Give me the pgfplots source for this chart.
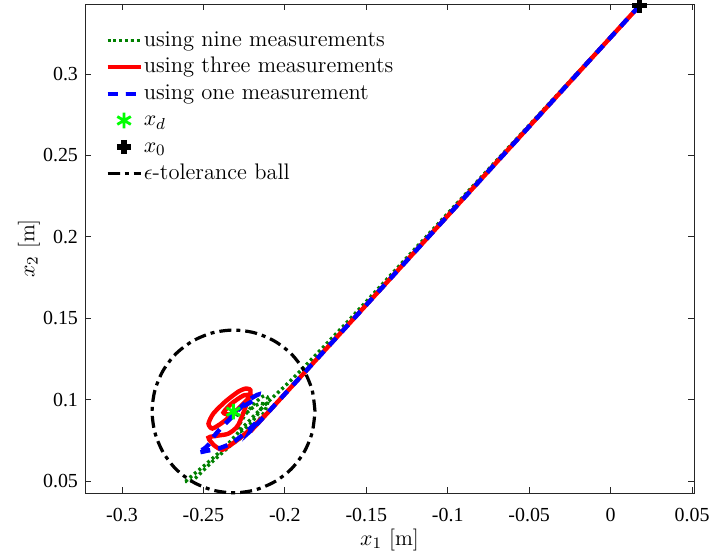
\documentclass[border=0pt]{standalone}
\usepackage{fontspec}
\usepackage{pgfplots}
\pgfplotsset{compat=1.18}
\newfontfamily\timesfont{Liberation Serif}
\definecolor{dkgreen}{rgb}{0,0.5,0}
\definecolor{axgray}{rgb}{0.15,0.15,0.15}

\begin{document}
\begin{tikzpicture}
\begin{axis}[
  scale only axis, width=304.5bp, height=244.5bp,
  xmin=-0.3227, xmax=0.0512, ymin=0.0426, ymax=0.3430,
  clip=false,
  xtick={-0.3,-0.25,-0.2,-0.15,-0.1,-0.05,0,0.05},
  xticklabels={-0.3,-0.25,-0.2,-0.15,-0.1,-0.05,0,0.05},
  ytick={0.05,0.1,0.15,0.2,0.25,0.3},
  yticklabels={0.05,0.1,0.15,0.2,0.25,0.3},
  tick label style={font=\timesfont\fontsize{10}{12}\selectfont},
  xticklabel style={yshift=-4bp},
  axis line style={axgray},
  tick style={axgray, line width=0.4pt},
  tick align=inside, major tick length=3bp,
  xlabel={$x_1$ [m]}, ylabel={$x_2$ [m]},
  label style={font=\fontsize{11}{13}\selectfont},
  xlabel style={at={(axis description cs:0.5,0)}, anchor=center, yshift=-23.5bp},
  ylabel style={at={(axis description cs:-0.092,0.5)}, anchor=center},
  legend cell align=left,
  legend style={at={(axis description cs:0,1)}, anchor=north west,
    xshift=7bp, yshift=-9.5bp, draw=none, fill=none,
    font=\fontsize{11.3}{13}\selectfont, row sep=0bp,
    nodes={inner xsep=0.5bp, inner ysep=0.4bp, text height=9bp, text depth=3.5bp}},
  legend image code/.code={\draw[mark repeat=2,mark phase=2,#1]
    plot coordinates {(0bp,0bp) (8.25bp,0bp) (16.5bp,0bp)};},
]
% nine measurements
\addplot[dkgreen, line width=1.7bp, dash pattern=on 1.4bp off 1.5bp, smooth, tension=0.4] coordinates {
(0.0178,0.3420) (-0.0983,0.2162) (-0.1597,0.1498) (-0.1873,0.1209)
(-0.1996,0.1086) (-0.2101,0.0988) (-0.2242,0.0846) (-0.2365,0.0711)
(-0.2488,0.0600) (-0.2604,0.0502) (-0.2561,0.0508) (-0.2445,0.0619)
(-0.2334,0.0717) (-0.2260,0.0772) (-0.2187,0.0840) (-0.2125,0.0926)
(-0.2101,0.1000) (-0.2125,0.1025) (-0.2181,0.0982) (-0.2242,0.0908)
(-0.2285,0.0834) (-0.2273,0.0803) (-0.2211,0.0852) (-0.2156,0.0926)
(-0.2138,0.0975) (-0.2181,0.0963) (-0.2242,0.0914) (-0.2285,0.0902)
(-0.2316,0.0926)
};
% three measurements
\addplot[red, line width=2.2bp, smooth, tension=0.4] coordinates {
(0.0178,0.3420) (-0.2076,0.0951) (-0.2162,0.0865) (-0.2242,0.0791)
(-0.2322,0.0729) (-0.2383,0.0692) (-0.2432,0.0717) (-0.2469,0.0766)
(-0.2408,0.0779) (-0.2346,0.0791) (-0.2285,0.0846) (-0.2211,0.1043)
(-0.2236,0.1068) (-0.2285,0.1049) (-0.2365,0.0988) (-0.2439,0.0914)
(-0.2469,0.0852) (-0.2445,0.0822) (-0.2383,0.0859) (-0.2310,0.0920)
(-0.2242,0.0988) (-0.2211,0.1025) (-0.2254,0.1025) (-0.2328,0.0975)
(-0.2377,0.0920) (-0.2340,0.0908) (-0.2316,0.0926)
};
% one measurement
\addplot[blue, line width=2.2bp, dash pattern=on 5bp off 4bp, smooth, tension=0.4] coordinates {
(0.0178,0.3420) (-0.2076,0.0951) (-0.2162,0.0871) (-0.2242,0.0797)
(-0.2303,0.0748) (-0.2346,0.0723) (-0.2408,0.0699) (-0.2475,0.0686)
(-0.2537,0.0674) (-0.2494,0.0699) (-0.2457,0.0736) (-0.2432,0.0779)
(-0.2389,0.0828) (-0.2328,0.0889) (-0.2260,0.0963) (-0.2199,0.1012)
(-0.2162,0.1031) (-0.2174,0.1006) (-0.2236,0.0969) (-0.2297,0.0932)
(-0.2346,0.0895) (-0.2353,0.0883) (-0.2322,0.0914) (-0.2316,0.0926)
};
% desired point
\addplot[only marks, mark=asterisk, mark size=3.9bp, color=green, mark options={line width=1.4bp}]
  coordinates {(-0.2316,0.0926)};
% initial point
\addplot[only marks, mark=+, mark size=3.6bp, color=black, mark options={line width=2.6bp}]
  coordinates {(0.0178,0.3420)};
% tolerance ball
\addplot[black, line width=1.6bp, dash pattern=on 6bp off 2.5bp on 2bp off 2.5bp, smooth] coordinates {
(-0.1815,0.0927) (-0.1832,0.1056) (-0.1882,0.1177) (-0.1961,0.1281)
(-0.2065,0.1360) (-0.2186,0.1410) (-0.2315,0.1427) (-0.2444,0.1410)
(-0.2565,0.1360) (-0.2669,0.1281) (-0.2748,0.1177) (-0.2798,0.1056)
(-0.2815,0.0927) (-0.2798,0.0798) (-0.2748,0.0677) (-0.2669,0.0573)
(-0.2565,0.0494) (-0.2444,0.0444) (-0.2315,0.0427) (-0.2186,0.0444)
(-0.2065,0.0494) (-0.1961,0.0573) (-0.1882,0.0677) (-0.1832,0.0798)
(-0.1815,0.0927)
};
\legend{using nine measurements, using three measurements, using one measurement, $x_d$, $x_0$, $\epsilon$-tolerance ball}
\end{axis}
\pgfresetboundingbox
\path[use as bounding box] ([xshift=-42.5bp,yshift=-29.5bp]current axis.south west)
  rectangle ([xshift=10bp,yshift=2bp]current axis.north east);
\end{tikzpicture}
\end{document}
